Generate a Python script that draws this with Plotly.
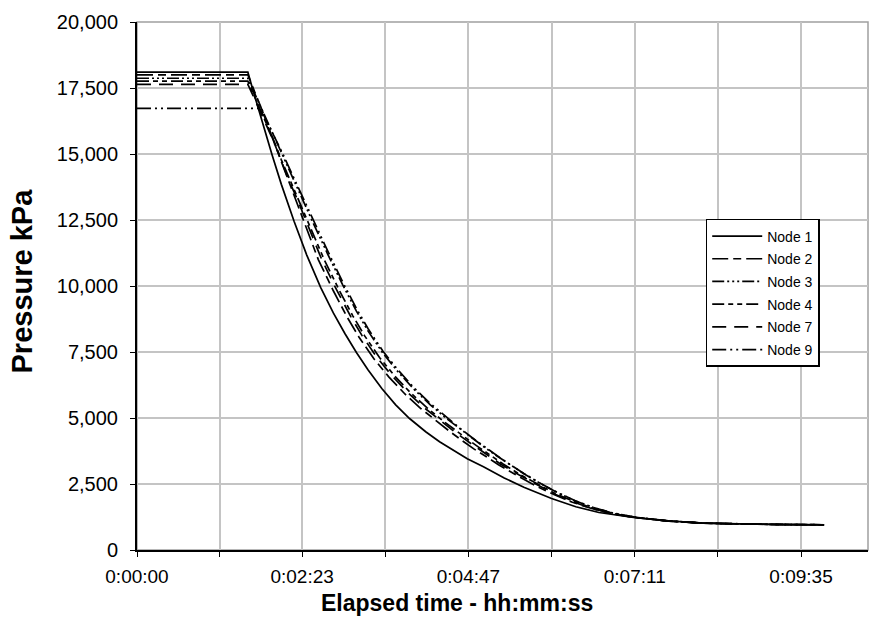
import plotly.graph_objects as go

# ---- data ----
tick_labels = ["0:00:00", "0:02:23", "0:04:47", "0:07:11", "0:09:35"]
y_ticks = [0, 2500, 5000, 7500, 10000, 12500, 15000, 17500, 20000]

# elapsed time, seconds
t_node1 = [0, 96, 100, 105, 110, 117, 125, 136, 147, 159, 170, 180, 190, 200, 212, 224, 236,
           250, 262, 275, 286, 300, 318, 335, 359, 380, 400, 430, 460, 490, 520, 560, 595]
p_node1 = [18100, 18100, 17480, 16720, 15980, 14960, 13850, 12450, 11170, 9950, 8980, 8200, 7480,
           6830, 6120, 5500, 4980, 4480, 4100, 3750, 3460, 3150, 2730, 2380, 1950, 1640, 1420,
           1230, 1100, 1020, 985, 960, 955]

t_node2 = [0, 96, 100, 105, 110, 117, 124, 130, 136, 146, 157, 170, 182, 192, 205, 218, 232, 246,
           260, 272, 282, 292, 303, 313, 329, 345, 361, 377, 393, 408, 429, 460, 490, 520, 560, 595]
p_node2 = [18000, 18000, 17560, 17020, 16480, 15640, 14820, 14110, 13410, 12230, 11000, 9820, 8820,
           8080, 7250, 6560, 5910, 5350, 4850, 4450, 4130, 3820, 3520, 3230, 2820, 2440, 2100, 1810,
           1580, 1400, 1240, 1095, 1018, 984, 960, 955]

t_node3 = [0, 96, 100, 105, 110, 118, 126, 133, 140, 152, 165, 178, 190, 200, 213, 226, 240, 254,
           268, 280, 290, 300, 310, 320, 335, 350, 365, 380, 395, 410, 430, 460, 490, 520, 560, 595]
p_node3 = [17870, 17870, 17480, 16990, 16500, 15720, 14950, 14260, 13580, 12440, 11220, 10050, 9050,
           8300, 7450, 6750, 6080, 5500, 4980, 4570, 4240, 3920, 3610, 3310, 2890, 2500, 2150, 1850,
           1610, 1420, 1250, 1100, 1020, 985, 960, 955]

t_node4 = [0, 96, 100, 105, 110, 118, 125, 132, 139, 150, 162, 175, 187, 197, 210, 223, 237, 251,
           265, 277, 287, 297, 307, 317, 332, 348, 363, 379, 394, 409, 430, 460, 490, 520, 560, 595]
p_node4 = [17760, 17760, 17350, 16850, 16350, 15560, 14780, 14080, 13390, 12230, 11010, 9850, 8860,
           8120, 7290, 6600, 5950, 5390, 4890, 4490, 4170, 3860, 3555, 3260, 2850, 2465, 2120, 1825,
           1590, 1408, 1244, 1097, 1019, 985, 960, 955]

t_node7 = [0, 96, 100, 105, 110, 118, 125, 131, 138, 149, 160, 173, 185, 195, 208, 221, 235, 249,
           263, 275, 285, 295, 305, 315, 331, 347, 362, 378, 393, 409, 429, 460, 490, 520, 560, 595]
p_node7 = [17640, 17640, 17260, 16780, 16290, 15510, 14740, 14050, 13370, 12210, 11000, 9840, 8850,
           8110, 7280, 6590, 5940, 5380, 4880, 4480, 4160, 3850, 3545, 3250, 2840, 2455, 2110, 1818,
           1585, 1405, 1242, 1096, 1019, 985, 960, 955]

t_node9 = [0, 96, 100, 105, 110, 118, 126, 133, 140, 152, 165, 178, 190, 200, 213, 226, 240, 254,
           268, 280, 290, 300, 310, 320, 335, 350, 365, 380, 395, 410, 430, 460, 490, 520, 560, 595]
p_node9 = [16730, 16730, 16730, 16730, 16450, 15750, 15030, 14360, 13690, 12560, 11340, 10160, 9150,
           8390, 7530, 6820, 6140, 5550, 5020, 4600, 4260, 3940, 3620, 3320, 2900, 2510, 2160, 1855,
           1615, 1423, 1252, 1101, 1020, 985, 960, 955]

series = [
    ("Node 1", t_node1, p_node1, "solid"),
    ("Node 2", t_node2, p_node2, "16px,5px,8px,5px"),
    ("Node 3", t_node3, p_node3, "12px,3px,2px,3px,2px,3px,2px,3px"),
    ("Node 4", t_node4, p_node4, "12px,4px,5px,4px,5px,4px"),
    ("Node 7", t_node7, p_node7, "14px,8px"),
    ("Node 9", t_node9, p_node9, "14px,4px,2px,4px,2px,4px"),
]


def to_sec(s):
    h, m, sec = s.split(":")
    return int(h) * 3600 + int(m) * 60 + int(sec)


tick_vals = [to_sec(s) for s in tick_labels]
minor_vals = [(a + b) / 2 for a, b in zip(tick_vals[:-1], tick_vals[1:])]

fig = go.Figure()
for name, t, p, dash in series:
    fig.add_trace(go.Scatter(
        x=t, y=p, mode="lines", name=name, legendgroup=name,
        line=dict(color="black", width=1.7, dash=dash),
    ))

FONT = "Liberation Sans, Arial, sans-serif"
GRID = "#c4c4c4"

fig.update_layout(
    width=879, height=629,
    margin=dict(l=137, r=11, t=14, b=79),
    paper_bgcolor="white", plot_bgcolor="white",
    font=dict(family=FONT, color="black", size=19),
    showlegend=True,
    legend=dict(
        x=0.778, y=0.627, xanchor="left", yanchor="top",
        bordercolor="black", borderwidth=1.5, bgcolor="white",
        font=dict(family=FONT, size=14, color="black"),
        itemwidth=50, tracegroupgap=1.5,
    ),
    shapes=[dict(type="rect", xref="paper", yref="paper", x0=0, y0=0, x1=1, y1=1,
                 line=dict(color="#a0a0a0", width=1.5), layer="below")],
    annotations=[
        dict(text="<b>Elapsed time - hh:mm:ss</b>", xref="paper", yref="paper",
             x=0.438, y=-0.1007, xanchor="center", yanchor="middle", showarrow=False,
             font=dict(family=FONT, size=23, color="black")),
        dict(text="<b>Pressure kPa</b>", xref="paper", yref="paper", textangle=-90,
             x=-0.157, y=0.509, xanchor="center", yanchor="middle", showarrow=False,
             font=dict(family=FONT, size=29, color="black")),
    ],
)

fig.update_xaxes(
    range=[0, 633], tickmode="array", tickvals=tick_vals, ticktext=tick_labels,
    showgrid=True, gridcolor=GRID, gridwidth=1.5,
    minor=dict(tickvals=minor_vals, showgrid=True, gridcolor=GRID, gridwidth=1.5,
               ticks="outside", ticklen=5, tickcolor="black"),
    ticks="outside", ticklen=5, tickcolor="black",
    showline=True, linecolor="black", linewidth=2, zeroline=False,
    tickfont=dict(size=19), ticklabelstandoff=3,
)
fig.update_yaxes(
    range=[0, 20000], tickmode="array", tickvals=y_ticks,
    tickformat=",d",
    showgrid=True, gridcolor=GRID, gridwidth=1.5,
    ticks="outside", ticklen=5, tickcolor="black",
    showline=True, linecolor="black", linewidth=2, zeroline=False,
    tickfont=dict(size=20), ticklabelstandoff=8,
)

fig.write_html("out.html")
